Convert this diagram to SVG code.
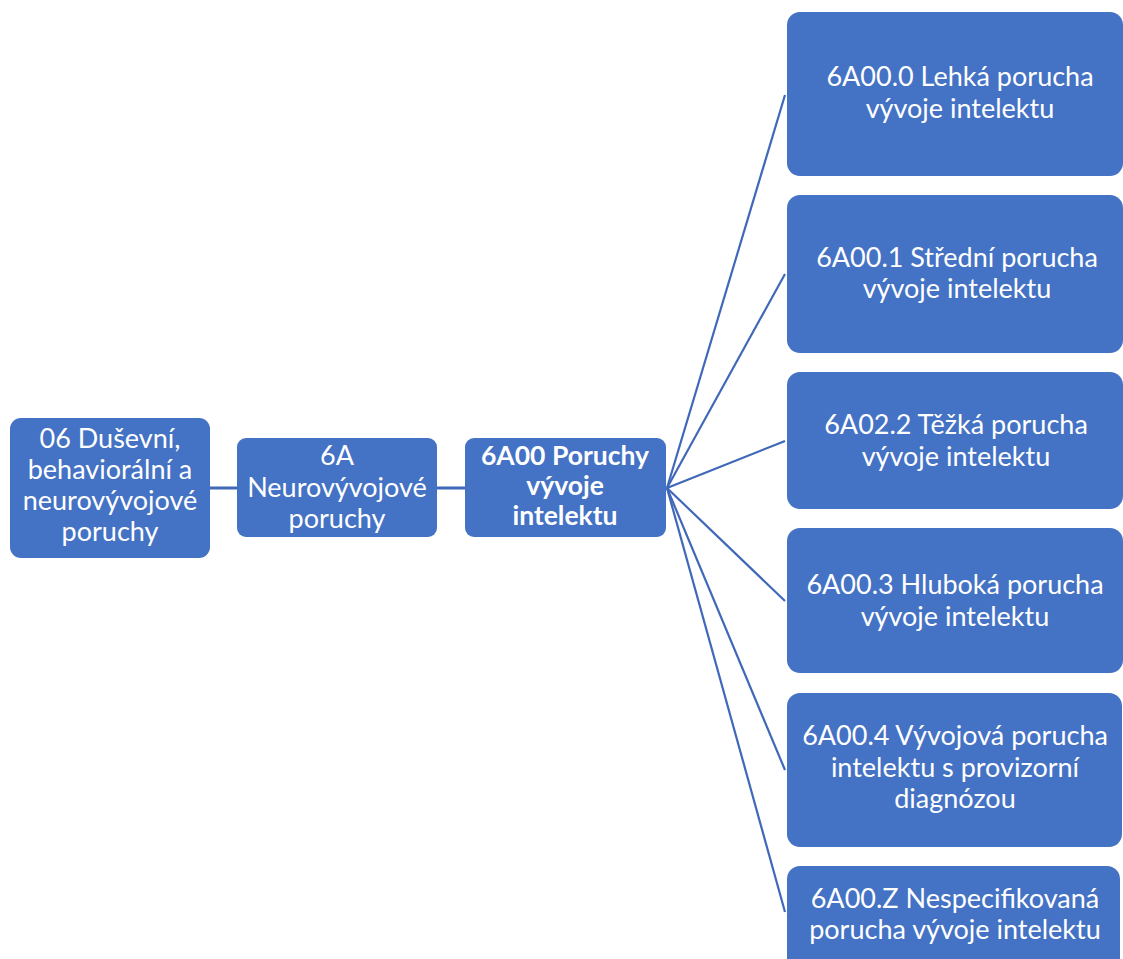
<svg xmlns="http://www.w3.org/2000/svg" width="1123" height="959" viewBox="0 0 1123 959">
<style>
.box{fill:#4472C4;}
.t{font-family:Lato,'Liberation Sans',sans-serif;font-size:27px;fill:#ffffff;text-anchor:middle;}
.b{font-weight:bold;font-size:26.5px;}
.c{stroke:#4068B8;stroke-width:2.2;fill:none;}
</style>
<rect width="1123" height="959" fill="#ffffff"/>
<g id="connectors">
<line class="c" x1="210" y1="488" x2="237" y2="488" style="stroke-width:3"/>
<line class="c" x1="437" y1="488" x2="465" y2="488" style="stroke-width:3"/>
<line class="c" x1="667" y1="488" x2="785" y2="95"/>
<line class="c" x1="667" y1="488" x2="785" y2="274"/>
<line class="c" x1="667" y1="488" x2="785" y2="441"/>
<line class="c" x1="667" y1="488" x2="785" y2="601"/>
<line class="c" x1="667" y1="488" x2="785" y2="770"/>
<line class="c" x1="667" y1="488" x2="785" y2="912"/>
</g>
<g id="n1">
<rect class="box" x="10" y="418" width="200" height="140" rx="11"/>
<text class="t" x="110" y="448">06 Duševní,</text>
<text class="t" x="110" y="479">behaviorální a</text>
<text class="t" x="110" y="510">neurovývojové</text>
<text class="t" x="110" y="541">poruchy</text>
</g>
<g id="n2">
<rect class="box" x="237" y="438" width="200" height="99" rx="9"/>
<text class="t" x="337" y="465">6A</text>
<text class="t" x="337" y="497">Neurovývojové</text>
<text class="t" x="337" y="528">poruchy</text>
</g>
<g id="n3">
<rect class="box" x="465" y="438" width="201" height="99" rx="9"/>
<text class="t b" x="565" y="465">6A00 Poruchy</text>
<text class="t b" x="565" y="495">vývoje</text>
<text class="t b" x="565" y="525">intelektu</text>
</g>
<g id="nA">
<rect class="box" x="787" y="12" width="336" height="164" rx="13"/>
<text class="t" x="960" y="86">6A00.0 Lehká porucha</text>
<text class="t" x="960" y="118">vývoje intelektu</text>
</g>
<g id="nB">
<rect class="box" x="787" y="195" width="336" height="158" rx="13"/>
<text class="t" x="957" y="267">6A00.1 Střední porucha</text>
<text class="t" x="957" y="298">vývoje intelektu</text>
</g>
<g id="nC">
<rect class="box" x="787" y="372" width="336" height="137" rx="13"/>
<text class="t" x="956" y="434">6A02.2 Těžká porucha</text>
<text class="t" x="956" y="466">vývoje intelektu</text>
</g>
<g id="nD">
<rect class="box" x="787" y="528" width="336" height="145" rx="13"/>
<text class="t" x="955" y="594">6A00.3 Hluboká porucha</text>
<text class="t" x="955" y="626">vývoje intelektu</text>
</g>
<g id="nE">
<rect class="box" x="787" y="693" width="335" height="154" rx="13"/>
<text class="t" x="955" y="745">6A00.4 Vývojová porucha</text>
<text class="t" x="955" y="777">intelektu s provizorní</text>
<text class="t" x="955" y="808">diagnózou</text>
</g>
<g id="nF">
<rect class="box" x="787" y="866" width="333" height="110" rx="13"/>
<text class="t" x="955" y="908">6A00.Z Nespecifikovaná</text>
<text class="t" x="955" y="939">porucha vývoje intelektu</text>
</g>
</svg>
